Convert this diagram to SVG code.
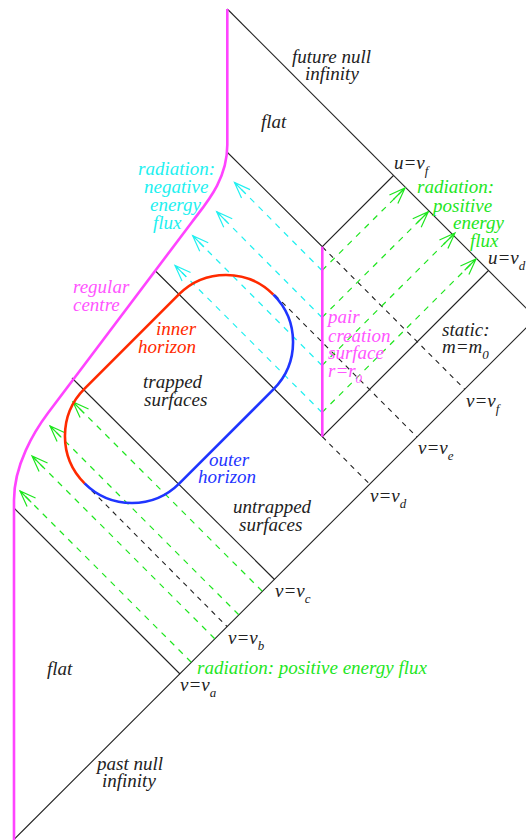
<svg xmlns="http://www.w3.org/2000/svg" width="526" height="840" viewBox="0 0 526 840">
<style>
.bl{fill:none;stroke:#222;stroke-width:1.1}
.bd{fill:none;stroke:#222;stroke-width:1.1;stroke-dasharray:5,5}
.gd{fill:none;stroke:#1ee61e;stroke-width:1.2;stroke-dasharray:6,6}
.cd{fill:none;stroke:#22f0f0;stroke-width:1.2;stroke-dasharray:6,6}
.mg{fill:none;stroke:#ff44ff;stroke-width:2.6}
.rd{fill:none;stroke:#ff2a00;stroke-width:2.6}
.bu{fill:none;stroke:#1f35ff;stroke-width:2.6}
text{font-family:"Liberation Serif","Times New Roman",serif;font-style:italic;font-size:19px;fill:#222}
.tg{fill:#1ee61e}.tc{fill:#22f0f0}.tm{fill:#ff55ff}.tr{fill:#ff2a00}.tb{fill:#1f35ff}
.sub{font-size:13px}
</style>
<defs>
<marker id="ag" markerUnits="userSpaceOnUse" orient="auto" markerWidth="24" markerHeight="16" refX="0" refY="0" viewBox="-20 -8 24 16" overflow="visible">
<path d="M-16,-6 L0,0 L-16,6 M-16,0 L0,0" fill="none" stroke="#1ee61e" stroke-width="1.2"/>
</marker>
<marker id="ac" markerUnits="userSpaceOnUse" orient="auto" markerWidth="24" markerHeight="16" refX="0" refY="0" viewBox="-20 -8 24 16" overflow="visible">
<path d="M-16,-6 L0,0 L-16,6 M-16,0 L0,0" fill="none" stroke="#22f0f0" stroke-width="1.2"/>
</marker>
</defs>
<g id="connectors">
<path class="bl" d="M227.3,9 L536,318"/>
<path class="bl" d="M13.5,840 L536,318"/>
<path class="bl" d="M227,152 L322.3,246.7 L393.5,175.5"/>
<path class="bl" d="M156,271.5 L322.3,436.7 L488.5,270.5"/>
<path class="bl" d="M72,378 L274.5,579.5"/>
<path class="bl" d="M14,508 L180,674"/>
<path class="bd" d="M322.5,247 L464.5,389"/>
<path class="bd" d="M275,295 L417,437"/>
<path class="bd" d="M322.3,436.7 L369.5,484"/>
<path class="bd" d="M84.6,483.4 L227,626.5"/>
<path class="cd" marker-end="url(#ac)" d="M322,270.5 L234.5,182.5"/>
<path class="cd" marker-end="url(#ac)" d="M322,317.5 L216.7,211.7"/>
<path class="cd" marker-end="url(#ac)" d="M322,365.5 L192.7,235.7"/>
<path class="cd" marker-end="url(#ac)" d="M322,412.5 L175,265.5"/>
<path class="gd" marker-end="url(#ag)" d="M322,270.5 L405,188"/>
<path class="gd" marker-end="url(#ag)" d="M322,317.5 L428.3,211.7"/>
<path class="gd" marker-end="url(#ag)" d="M322,365.5 L455,233"/>
<path class="gd" marker-end="url(#ag)" d="M322,412.5 L476,259"/>
<path class="gd" marker-end="url(#ag)" d="M262.25,591.25 L73,402"/>
<path class="gd" marker-end="url(#ag)" d="M238.75,614.75 L50,426"/>
<path class="gd" marker-end="url(#ag)" d="M214.75,638.75 L32,456"/>
<path class="gd" marker-end="url(#ag)" d="M191.25,662.25 L20,491"/>
</g>
<g id="regular-centre">
<path class="mg" d="M227.3,9 L227.3,145 C227.3,180 206,203.4 192,222 L48,413 C34,431.6 14,465 14,500 L14,840"/>
</g>
<g id="pair-creation-surface">
<path class="mg" d="M322.3,246.7 L322.3,436.7"/>
</g>
<g id="inner-horizon">
<path class="rd" d="M273.4,294.6 A67,67 0 0 0 178.6,294.6 L84.6,388.6 A67,67 0 0 0 84.6,483.4"/>
</g>
<g id="outer-horizon">
<path class="bu" d="M84.6,483.4 A67,67 0 0 0 179.4,483.4 L273.4,389.4 A67,67 0 0 0 273.4,294.6"/>
</g>
<g id="labels">
<text x="292" y="63">future null</text>
<text x="305" y="80">infinity</text>
<text x="261" y="128">flat</text>
<text x="394" y="169">u=v<tspan class="sub" dy="6">f</tspan></text>
<text class="tg" x="417" y="193">radiation:</text>
<text class="tg" x="433" y="211.5">positive</text>
<text class="tg" x="453" y="229">energy</text>
<text class="tg" x="470" y="247">flux</text>
<text x="488" y="264">u=v<tspan class="sub" dy="6">d</tspan></text>
<text class="tc" x="138" y="175">radiation:</text>
<text class="tc" x="144" y="193">negative</text>
<text class="tc" x="150" y="211">energy</text>
<text class="tc" x="153" y="229">flux</text>
<text class="tm" x="73" y="293">regular</text>
<text class="tm" x="73" y="311">centre</text>
<text class="tr" x="156" y="335">inner</text>
<text class="tr" x="138" y="353">horizon</text>
<text x="143" y="388">trapped</text>
<text x="144" y="406">surfaces</text>
<text class="tm" x="328" y="323">pair</text>
<text class="tm" x="328" y="342">creation</text>
<text class="tm" x="328" y="359">surface</text>
<text class="tm" x="328" y="377">r=r<tspan class="sub" dy="6">0</tspan></text>
<text x="442" y="336">static:</text>
<text x="442" y="353">m=m<tspan class="sub" dy="6">0</tspan></text>
<text x="466" y="407">v=v<tspan class="sub" dy="6">f</tspan></text>
<text x="418" y="454">v=v<tspan class="sub" dy="6">e</tspan></text>
<text class="tb" x="209" y="466">outer</text>
<text class="tb" x="198" y="483">horizon</text>
<text x="370" y="502">v=v<tspan class="sub" dy="6">d</tspan></text>
<text x="233" y="513">untrapped</text>
<text x="239" y="531">surfaces</text>
<text x="275" y="597">v=v<tspan class="sub" dy="6">c</tspan></text>
<text x="228" y="644">v=v<tspan class="sub" dy="6">b</tspan></text>
<text class="tg" x="197" y="674">radiation: positive energy flux</text>
<text x="180" y="691">v=v<tspan class="sub" dy="6">a</tspan></text>
<text x="47" y="675">flat</text>
<text x="97" y="770">past null</text>
<text x="102" y="787">infinity</text>
</g>
</svg>
